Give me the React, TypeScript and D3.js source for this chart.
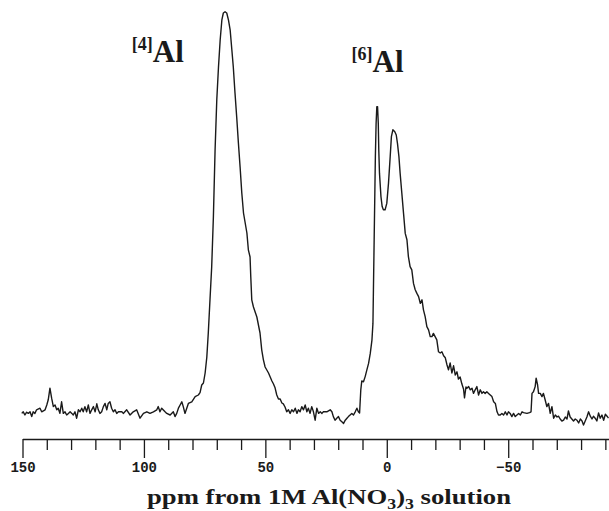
import React, { useEffect, useRef } from 'react'
import * as d3 from 'd3'

// 27Al MAS NMR trace: [ppm, intensity (tallest peak = 100)]
const noiseHigh: [number, number][] = [
  [150.3, -0.1], [149.7, 0.3], [149.0, -0.5], [148.3, 0.2], [147.6, -0.1], [146.9, 0.3],
  [146.2, -0.9], [145.6, 0.3], [144.9, -0.1], [144.2, 0.8], [142.8, 1.2], [142.1, 0.3],
  [140.7, 0.8], [140.0, 2.0], [139.4, 3.3], [138.7, 6.2], [138.0, 3.7], [137.3, 1.6],
  [136.6, 2.0], [135.9, 0.8], [135.3, 1.2], [134.6, -0.1], [133.9, 2.8], [133.2, -0.1],
  [132.5, 0.3], [131.8, -0.5], [131.1, -0.1], [130.4, 0.3], [129.7, -0.1], [129.1, -0.5],
  [128.4, 0.3], [127.7, -1.3], [127.0, 0.8], [126.3, 0.3], [125.6, 1.2], [125.0, 0.3],
  [124.3, 1.6], [123.6, 0.3], [122.9, 2.0], [122.2, -0.1], [121.5, 0.8], [120.8, 1.6],
  [120.1, 0.3], [119.4, 2.3], [118.8, 0.8], [118.1, -0.1], [117.4, 0.3], [116.7, 1.6],
  [116.0, 2.4], [115.3, 0.8], [114.7, 2.4], [114.0, 2.8], [113.3, 1.2], [112.6, 0.3],
  [111.9, 0.8], [111.2, -0.1], [110.5, 0.3], [109.1, 0.3],
]

const alIVRegion: [number, number][] = [
  [108.5, -0.1], [107.1, 0.8], [105.7, -0.5], [104.4, 0.3], [103.0, 0.8], [101.6, -1.3],
  [100.2, -0.1], [98.8, 0.3], [97.5, -0.1], [96.1, 0.3], [94.7, 0.8], [94.1, 1.6],
  [93.4, 0.3], [92.7, 1.2], [91.3, 0.3], [90.6, -0.1], [89.2, -0.5], [87.9, 0.3],
  [87.2, -0.9], [86.5, -0.1], [85.8, 1.2], [85.1, 2.0], [84.4, 2.8], [83.8, 1.6],
  [83.1, -0.1], [81.7, 2.4], [80.3, 2.8], [78.9, 4.1], [77.6, 4.5], [76.9, 5.1],
  [76.2, 7.0], [75.5, 7.5], [74.8, 10.0], [74.1, 14.0], [73.5, 20.0], [72.8, 28.3],
  [72.1, 36.5], [71.4, 49.0], [70.7, 65.8], [70.0, 78.3], [69.3, 86.5], [68.6, 93.3],
  [67.9, 98.3], [67.3, 100.0], [66.6, 100.3], [65.9, 100.0], [65.2, 98.3], [64.5, 95.8],
  [63.8, 90.8], [63.2, 86.5], [62.5, 80.0], [61.8, 74.0], [61.1, 67.5], [60.4, 61.5],
  [59.7, 55.0], [59.0, 50.0], [57.6, 45.0], [57.0, 40.8], [56.3, 39.0], [56.0, 34.0],
  [55.6, 28.3], [54.9, 26.5], [53.5, 24.0], [52.2, 20.0], [51.5, 15.8], [50.8, 13.3],
  [50.1, 11.5], [48.7, 10.0], [47.3, 8.0], [46.7, 7.3], [46.0, 6.3], [45.3, 4.5],
  [44.6, 3.5], [43.9, 3.5], [43.2, 2.5], [42.6, 2.3], [41.9, 1.5], [41.2, 0.3],
  [40.5, 0.8], [39.8, -0.1], [39.1, 0.8], [38.4, 0.3], [37.7, 1.2], [37.0, -0.1],
  [36.4, 0.8], [35.7, 0.3], [35.0, 1.6], [34.3, 0.8], [33.6, 2.0], [32.9, 0.3],
  [32.3, 1.2], [31.6, -0.1], [30.9, 1.6], [30.2, 0.3], [29.5, -1.8], [28.8, 1.2],
  [28.1, -0.1], [27.4, 0.3], [26.7, -0.1], [26.1, 0.3], [24.7, 0.3], [23.3, 0.8],
  [22.6, 0.3], [22.0, -0.9], [21.3, -1.8], [20.6, -1.3], [19.9, -0.9], [19.2, -1.8],
  [18.5, -2.2], [17.8, -2.6], [17.1, -1.8], [16.4, -1.3], [15.8, -0.9], [15.1, -0.5],
  [14.4, -0.1], [13.7, -0.5], [13.0, 0.3], [12.3, 1.2], [11.7, 0.3], [11.2, 0.0],
]

const alVIRegion: [number, number][] = [
  [10.7, 5.8], [10.3, 8.0], [9.6, 7.8], [8.9, 9.1], [8.2, 10.8], [7.5, 12.4],
  [6.8, 14.9], [6.1, 18.3], [5.7, 22.4], [5.5, 30.8], [5.2, 43.3], [4.9, 55.8],
  [4.7, 64.1], [4.4, 72.4], [4.1, 76.6], [3.8, 76.6], [3.5, 72.4], [3.3, 65.8],
  [3.0, 59.9], [2.4, 54.1], [1.9, 51.6], [1.4, 50.8], [0.7, 50.8], [0.0, 52.4],
  [-0.7, 57.4], [-1.4, 64.1], [-1.9, 69.1], [-2.5, 70.8], [-3.3, 70.3], [-3.9, 69.5],
  [-4.4, 67.4], [-5.0, 64.1], [-5.5, 59.9], [-6.2, 54.9], [-6.9, 49.9], [-7.6, 44.9],
  [-8.3, 43.3], [-8.9, 39.1], [-9.6, 36.6], [-10.3, 35.8], [-11.0, 32.4], [-11.7, 30.8],
  [-12.4, 29.9], [-13.1, 29.1], [-13.8, 27.4], [-14.5, 28.3], [-15.1, 25.8], [-15.8, 24.1],
  [-16.5, 21.6], [-17.2, 20.8], [-17.9, 19.1], [-18.6, 19.1], [-19.2, 19.9], [-19.9, 19.1],
  [-20.6, 18.3], [-21.3, 15.3], [-22.0, 15.0], [-22.7, 15.3], [-23.4, 14.3], [-24.1, 13.8],
  [-24.8, 12.0], [-25.4, 10.8], [-26.1, 12.5], [-26.8, 10.0], [-27.5, 11.8], [-28.2, 9.5],
  [-28.9, 10.3], [-29.5, 8.5], [-30.2, 9.0], [-30.9, 7.3], [-31.6, 6.0], [-32.0, 3.8],
  [-32.6, 6.5], [-33.0, 6.2], [-33.7, 6.6], [-34.4, 5.8], [-35.1, 6.2], [-35.7, 4.9],
  [-36.4, 5.8], [-37.1, 6.6], [-37.8, 4.5], [-38.5, 5.8], [-39.2, 4.9], [-39.8, 5.3],
  [-40.5, 4.9], [-41.2, 5.3], [-41.9, 4.9], [-42.6, 4.5], [-43.3, 4.1], [-44.0, 2.8],
  [-44.7, 2.4], [-45.4, 0.3], [-46.0, -0.5], [-46.7, -0.5], [-47.4, -0.1], [-48.1, -0.5],
  [-48.8, 0.3], [-49.5, -0.5], [-50.1, 0.3], [-50.8, -0.1], [-51.5, -0.9], [-52.2, -0.1],
  [-52.9, -0.9], [-53.6, -0.5], [-54.3, -0.1], [-55.0, -0.5], [-55.7, 0.3], [-56.3, 0.1],
  [-57.7, -0.1], [-58.8, 0.1], [-59.4, 0.3],
]

const noiseLow: [number, number][] = [
  [-59.8, 4.9], [-60.4, 5.3], [-61.1, 6.6], [-61.5, 8.7], [-62.1, 7.0], [-62.5, 4.9],
  [-63.2, 4.9], [-63.9, 4.1], [-64.5, 4.9], [-65.2, 3.3], [-65.9, 1.6], [-66.6, 2.4],
  [-67.3, -0.1], [-68.0, 1.6], [-68.7, -1.3], [-69.4, -0.5], [-70.1, -1.0], [-70.7, -0.8],
  [-71.4, -1.5], [-72.1, -2.0], [-72.8, -1.8], [-73.5, -1.0], [-74.2, -1.5], [-74.8, 0.5],
  [-75.5, -1.0], [-76.2, -1.5], [-76.9, -2.0], [-77.6, -1.5], [-78.3, -1.8], [-79.0, -2.5],
  [-79.7, -1.5], [-80.4, -2.0], [-81.0, -3.0], [-81.7, -2.0], [-82.4, -1.0], [-83.1, 0.3],
  [-83.8, -0.8], [-84.5, -1.5], [-85.1, -0.8], [-85.8, -1.3], [-86.5, -2.0], [-87.2, 0.0],
  [-87.9, -1.3], [-88.6, -0.5], [-89.3, -1.8], [-90.0, -0.3], [-90.7, -0.8], [-91.3, -1.3],
]

const majorTicks = [150, 100, 50, 0, -50]
const minorTicks = [140, 130, 120, 110, 90, 80, 70, 60, 40, 30, 20, 10, -10, -20, -30, -40, -60, -70, -80, -90]

const peakLabels = [
  { site: '4', ppm: 105, intensity: 87.7 },
  { site: '6', ppm: 14.5, intensity: 85.2 },
]

const WIDTH = 609
const HEIGHT = 511

export default function App() {
  const ref = useRef<SVGSVGElement>(null)

  useEffect(() => {
    const svg = d3.select(ref.current)
    svg.selectAll('*').remove()

    const x = d3.scaleLinear().domain([150, -91.5]).range([22.5, WIDTH])
    const y = d3.scaleLinear().domain([0, 100]).range([413, 13])
    const axisY = 439

    const trace = [...noiseHigh, ...alIVRegion, ...alVIRegion, ...noiseLow]

    const line = d3
      .line<[number, number]>()
      .x(d => x(d[0]))
      .y(d => y(d[1]))

    svg
      .append('path')
      .datum(trace)
      .attr('d', line)
      .attr('fill', 'none')
      .attr('stroke', '#1a1a1a')
      .attr('stroke-width', 1.4)
      .attr('stroke-linejoin', 'round')

    // minor ticks first, then the major axis with labels
    svg
      .append('g')
      .attr('transform', `translate(0,${axisY})`)
      .call(d3.axisBottom(x).tickValues(minorTicks).tickSize(11).tickFormat(() => '').tickSizeOuter(0))
      .call(g => g.select('.domain').remove())
      .call(g => g.selectAll('line').attr('stroke', '#1a1a1a').attr('stroke-width', 1.3))

    svg
      .append('g')
      .attr('transform', `translate(0,${axisY})`)
      .call(d3.axisBottom(x).tickValues(majorTicks).tickSize(19).tickSizeOuter(0).tickPadding(4))
      .call(g => g.select('.domain').attr('stroke', '#1a1a1a').attr('stroke-width', 1.4))
      .call(g => g.selectAll('line').attr('stroke', '#1a1a1a').attr('stroke-width', 1.3))
      .call(g =>
        g
          .selectAll('text')
          .attr('fill', '#1a1a1a')
          .style('font', 'bold 14px "Liberation Mono", "DejaVu Sans Mono", monospace')
      )

    // peak labels
    peakLabels.forEach(p => {
      const t = svg
        .append('text')
        .attr('x', x(p.ppm))
        .attr('y', y(p.intensity))
        .attr('fill', '#1a1a1a')
        .style('font-family', '"Liberation Serif", "Times New Roman", serif')
        .style('font-weight', 'bold')
        .style('font-size', '31px')
      t.append('tspan').style('font-size', '18px').attr('dy', -12).text(`[${p.site}]`)
      t.append('tspan').attr('dy', 12).text('Al')
    })

    // axis title
    const title = svg
      .append('text')
      .attr('transform', `translate(329,504) scale(1.27,1)`)
      .attr('text-anchor', 'middle')
      .attr('fill', '#1a1a1a')
      .style('font-family', '"Liberation Serif", "Times New Roman", serif')
      .style('font-weight', 'bold')
      .style('font-size', '21px')
    title.append('tspan').text('ppm from 1M Al(NO')
    title.append('tspan').style('font-size', '14px').attr('dy', 5).text('3')
    title.append('tspan').attr('dy', -5).text(')')
    title.append('tspan').style('font-size', '14px').attr('dy', 5).text('3')
    title.append('tspan').attr('dy', -5).text(' solution')
  }, [])

  return (
    <svg
      ref={ref}
      width={WIDTH}
      height={HEIGHT}
      style={{ position: 'absolute', left: 0, top: 0, background: '#fff' }}
    />
  )
}
